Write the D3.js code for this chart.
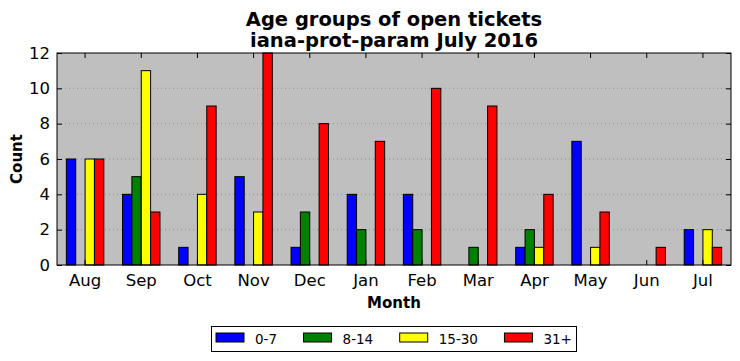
<!DOCTYPE html>
<html>
<head>
<meta charset="utf-8">
<script src="https://cdn.jsdelivr.net/npm/d3@7"></script>
<style>
  body { margin: 0; background: #fff; }
  svg { display: block; font-family: "DejaVu Sans", sans-serif; }
</style>
</head>
<body>
<svg id="chart" width="740" height="361"></svg>
<script>
// month categories
const months = ["Aug", "Sep", "Oct", "Nov", "Dec", "Jan", "Feb", "Mar", "Apr", "May", "Jun", "Jul"];
// age group series
const groups = ["0-7", "8-14", "15-30", "31+"];
const colors = ["#0000ff", "#008000", "#ffff00", "#ff0000"];
// values
const age0to7   = [6, 4, 1, 5, 1, 4, 4, 0, 1, 7, 0, 2];
const age8to14  = [0, 5, 0, 0, 3, 2, 2, 1, 2, 0, 0, 0];
const age15to30 = [6, 11, 4, 3, 0, 0, 0, 0, 1, 1, 0, 2];
const age31plus = [6, 3, 9, 12, 8, 7, 10, 9, 4, 3, 1, 1];
const yTicks = [0, 2, 4, 6, 8, 10, 12];

const series = [age0to7, age8to14, age15to30, age31plus];

const margin = {left: 57, right: 9, top: 53, bottom: 96};
const width = 740, height = 361;
const svg = d3.select("#chart");

const x = d3.scaleBand().domain(months).range([margin.left, width - margin.right]);
const y = d3.scaleLinear().domain([0, 12]).range([height - margin.bottom, margin.top]);
const barW = x.bandwidth() / 6;

// plot background
svg.append("rect")
    .attr("x", margin.left).attr("y", margin.top)
    .attr("width", width - margin.left - margin.right)
    .attr("height", y(0) - margin.top)
    .attr("fill", "#bfbfbf");

// dotted grid lines
svg.append("g").selectAll("line")
    .data(yTicks.slice(1, -1))
    .join("line")
    .attr("x1", margin.left).attr("x2", width - margin.right)
    .attr("y1", d => y(d)).attr("y2", d => y(d))
    .attr("stroke", "#808080")
    .attr("stroke-width", 0.8)
    .attr("stroke-dasharray", "1,3");

// bars
series.forEach((vals, si) => {
    svg.append("g").selectAll("rect")
        .data(vals.map((v, i) => ({m: months[i], v: v})).filter(d => d.v > 0))
        .join("rect")
        .attr("x", d => x(d.m) + x.bandwidth() / 2 - 2 * barW + si * barW)
        .attr("y", d => y(d.v))
        .attr("width", barW)
        .attr("height", d => y(0) - y(d.v))
        .attr("fill", colors[si])
        .attr("stroke", "#000")
        .attr("stroke-width", 1);
});

// axes (ticks pointing inward, on all four sides)
const xAxisB = svg.append("g")
    .attr("transform", `translate(0,${y(0)})`)
    .call(d3.axisBottom(x).tickSize(-5).tickPadding(9));
const xAxisT = svg.append("g")
    .attr("transform", `translate(0,${margin.top})`)
    .call(d3.axisTop(x).tickSize(-5).tickFormat(""));
const yAxisL = svg.append("g")
    .attr("transform", `translate(${margin.left},0)`)
    .call(d3.axisLeft(y).tickValues(yTicks).tickSize(-5).tickPadding(7));
const yAxisR = svg.append("g")
    .attr("transform", `translate(${width - margin.right},0)`)
    .call(d3.axisRight(y).tickValues(yTicks).tickSize(-5).tickFormat(""));

[xAxisB, xAxisT, yAxisL, yAxisR].forEach(g => {
    g.select(".domain").remove();
    g.selectAll(".tick line").attr("stroke", "#000");
    g.selectAll("text").attr("font-size", 16.5).attr("fill", "#000")
        .attr("font-family", "DejaVu Sans, sans-serif");
});

// frame
svg.append("rect")
    .attr("x", margin.left).attr("y", margin.top)
    .attr("width", width - margin.left - margin.right)
    .attr("height", y(0) - margin.top)
    .attr("fill", "none").attr("stroke", "#000").attr("stroke-width", 1);

// titles
const cx = (margin.left + width - margin.right) / 2;
svg.append("text").attr("x", cx).attr("y", 26)
    .attr("text-anchor", "middle").attr("font-size", 19.5).attr("font-weight", "bold")
    .text("Age groups of open tickets");
svg.append("text").attr("x", cx).attr("y", 47)
    .attr("text-anchor", "middle").attr("font-size", 19.5).attr("font-weight", "bold")
    .text("iana-prot-param July 2016");

svg.append("text").attr("x", cx).attr("y", 308)
    .attr("text-anchor", "middle").attr("font-size", 15).attr("font-weight", "bold")
    .text("Month");
svg.append("text")
    .attr("transform", `translate(22,${(margin.top + y(0)) / 2}) rotate(-90)`)
    .attr("text-anchor", "middle").attr("font-size", 15).attr("font-weight", "bold")
    .text("Count");

// legend: entries laid out by their text widths
const legend = svg.append("g");
legend.append("rect")
    .attr("x", 211.5).attr("y", 326.5).attr("width", 365).attr("height", 25)
    .attr("fill", "#fff").attr("stroke", "#000").attr("stroke-width", 1);
let lx = 216;
groups.forEach((g, i) => {
    legend.append("rect")
        .attr("x", lx).attr("y", 333)
        .attr("width", 28).attr("height", 9)
        .attr("fill", colors[i]).attr("stroke", "#000");
    const t = legend.append("text")
        .attr("x", lx + 39).attr("y", 343.5)
        .attr("font-size", 13.5)
        .text(g);
    lx = lx + 39 + t.node().getComputedTextLength() + 26.5;
});
</script>
</body>
</html>
